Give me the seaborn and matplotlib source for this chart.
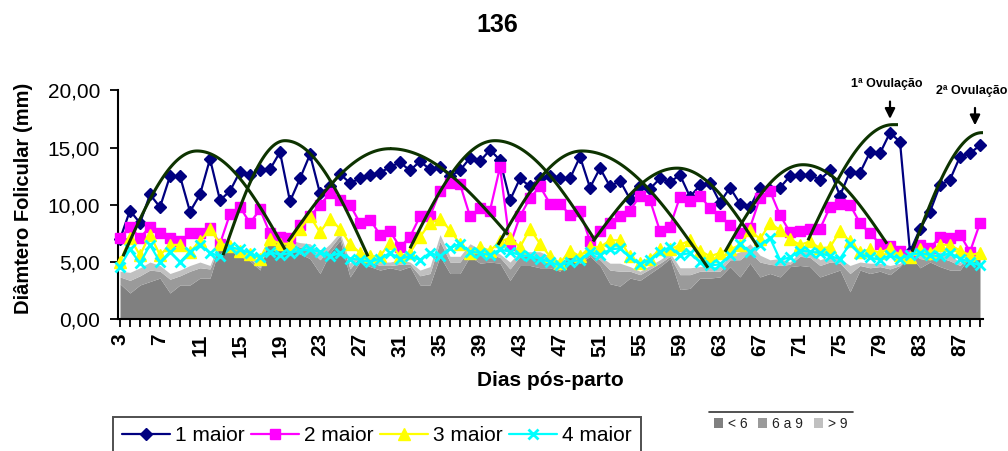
import numpy as np
import pandas as pd
import matplotlib
matplotlib.use("Agg")
import matplotlib.pyplot as plt
from matplotlib.lines import Line2D
from matplotlib.patches import Patch
import seaborn as sns

# ---- dados ----
dias = list(range(3, 90))

maior1 = [7.0, 9.5, 8.4, 10.9, 9.8, 12.5, 12.5, 9.4, 10.9, 14.0,
          10.4, 11.2, 12.9, 12.6, 13.0, 13.1, 14.6, 10.3, 12.3, 14.4,
          11.0, 11.6, 12.7, 11.9, 12.3, 12.6, 12.8, 13.3, 13.7, 13.0,
          13.8, 13.1, 13.3, 12.5, 13.0, 14.1, 13.8, 14.8, 13.9, 10.4,
          12.3, 11.6, 12.3, 12.5, 12.3, 12.3, 14.2, 11.5, 13.2, 11.6,
          12.1, 10.5, 11.6, 11.4, 12.3, 12.0, 12.6, 10.7, 11.7, 11.9,
          10.2, 11.5, 10.1, 9.8, 11.5, 11.3, 11.5, 12.5, 12.6, 12.6,
          12.2, 13.0, 10.8, 12.9, 12.8, 14.6, 14.5, 16.3, 15.5, 5.9,
          7.9, 9.4, 11.7, 12.2, 14.2, 14.5, 15.2]

maior2 = [7.1, 8.1, 7.1, 8.1, 7.5, 7.1, 6.8, 7.5, 7.5, 8.0,
          6.6, 9.2, 9.8, 8.4, 9.6, 7.5, 7.2, 7.1, 8.2, 9.0,
          10.0, 11.0, 10.4, 10.0, 8.4, 8.7, 7.4, 7.7, 6.3, 7.2,
          9.0, 9.0, 11.2, 11.9, 11.8, 9.0, 9.7, 9.5, 13.3, 6.5,
          9.0, 10.6, 11.6, 10.1, 10.1, 9.1, 9.5, 6.8, 7.7, 8.4,
          9.0, 9.5, 10.8, 10.4, 7.7, 8.1, 10.7, 10.3, 10.8, 9.7,
          9.0, 8.2, 7.5, 8.0, 10.6, 11.2, 9.1, 7.6, 7.7, 7.9,
          7.9, 9.8, 10.1, 10.0, 8.4, 7.5, 6.6, 6.4, 6.0, 5.6,
          6.5, 6.2, 7.2, 7.1, 7.4, 5.9, 8.4]

maior3 = [5.0, 7.1, 5.6, 7.4, 5.6, 6.5, 6.5, 5.9, 6.8, 7.9,
          6.6, 6.4, 6.0, 5.7, 5.3, 7.0, 6.6, 6.6, 7.9, 9.0,
          7.6, 8.8, 7.9, 6.6, 5.8, 5.5, 5.5, 6.7, 5.5, 5.8,
          7.2, 8.4, 8.8, 7.8, 6.6, 5.8, 6.3, 6.0, 6.8, 7.1,
          6.3, 7.9, 6.6, 5.5, 4.9, 6.0, 5.5, 6.3, 6.3, 6.9,
          6.9, 5.5, 4.9, 5.3, 6.1, 6.1, 6.5, 6.9, 6.0, 5.5,
          5.8, 6.1, 6.5, 7.8, 7.0, 8.4, 7.8, 7.0, 6.5, 6.8,
          6.2, 6.3, 7.7, 6.8, 5.9, 6.1, 5.8, 6.2, 5.6, 5.4,
          6.1, 5.8, 6.5, 6.5, 6.0, 5.6, 5.8]

maior4 = [4.6, 6.1, 4.9, 6.5, 5.0, 5.9, 5.0, 5.9, 6.5, 5.8,
          5.5, 6.3, 6.1, 5.8, 5.4, 5.9, 5.6, 5.8, 6.0, 6.1,
          5.9, 5.5, 5.8, 5.3, 5.2, 5.0, 5.3, 5.8, 5.3, 5.5,
          5.2, 5.8, 5.5, 6.2, 6.6, 5.9, 5.8, 5.6, 6.1, 5.9,
          5.6, 5.5, 5.3, 5.0, 4.7, 5.0, 5.2, 5.9, 5.6, 6.1,
          6.2, 5.4, 4.8, 5.2, 5.9, 6.3, 5.6, 5.8, 5.0, 4.7,
          4.8, 5.6, 6.6, 5.9, 6.5, 7.1, 5.2, 5.4, 6.0, 5.9,
          5.8, 5.5, 5.3, 6.6, 5.7, 5.4, 5.2, 5.6, 5.3, 5.6,
          5.8, 5.6, 5.5, 5.8, 5.3, 5.0, 4.7]

# classes de tamanho (áreas empilhadas)
menor6 = [3.1, 2.3, 3.0, 3.3, 3.6, 2.3, 3.0, 3.0, 3.6, 3.6,
          6.4, 6.0, 5.5, 5.1, 4.3, 7.3, 6.6, 6.2, 5.7, 5.3,
          4.0, 5.8, 6.9, 3.7, 5.0, 4.6, 4.3, 4.5, 4.3, 4.6,
          3.0, 3.0, 5.5, 4.0, 4.0, 5.5, 4.9, 5.0, 4.9, 3.4,
          4.7, 4.7, 4.5, 4.5, 4.2, 5.8, 4.9, 5.5, 4.7, 3.1,
          2.9, 3.6, 3.4, 4.0, 4.6, 5.3, 2.6, 2.7, 3.6, 3.6,
          3.7, 4.6, 3.7, 4.9, 3.7, 4.0, 3.7, 4.6, 4.7, 4.6,
          3.7, 4.0, 4.3, 2.4, 4.3, 4.0, 4.2, 3.9, 4.6, 5.6,
          4.5, 5.0, 4.6, 4.3, 4.3, 5.5, 5.5]

de6a9 = [0.6, 1.1, 0.8, 1.0, 0.6, 1.2, 0.8, 1.2, 0.9, 0.8,
         0.2, 0.2, 0.2, 0.2, 0.2, 0.2, 0.3, 0.4, 0.6, 0.8,
         1.2, 0.4, 0.4, 0.7, 0.5, 0.4, 0.4, 0.2, 0.5, 0.2,
         0.8, 1.0, 1.3, 1.0, 1.0, 0.7, 0.8, 0.7, 0.5, 1.0,
         0.8, 0.8, 0.9, 0.6, 0.2, 0.2, 0.2, 0.2, 0.5, 1.2,
         1.3, 0.6, 0.5, 0.4, 0.3, 0.2, 1.3, 1.2, 0.6, 0.6,
         0.5, 0.6, 1.5, 1.0, 1.3, 0.8, 1.0, 0.2, 0.8, 0.8,
         1.0, 1.0, 0.6, 1.6, 0.4, 0.5, 0.4, 0.5, 0.1, 0.3,
         0.8, 0.2, 0.8, 0.8, 0.4, 0.1, 0.2]

maior9 = [0.5, 0.7, 0.7, 0.7, 0.5, 0.5, 0.5, 0.5, 0.5, 0.3,
          0.3, 0.3, 0.3, 0.3, 0.3, 0.3, 0.3, 0.3, 0.4, 0.5,
          0.6, 0.4, 0.3, 0.5, 0.4, 0.3, 0.3, 0.3, 0.4, 0.2,
          0.5, 0.6, 0.6, 0.5, 0.5, 0.4, 0.4, 0.4, 0.3, 0.6,
          0.4, 0.4, 0.5, 0.4, 0.2, 0.1, 0.2, 0.1, 0.3, 0.6,
          0.7, 0.4, 0.3, 0.3, 0.3, 0.3, 0.6, 0.6, 0.4, 0.4,
          0.4, 0.4, 0.7, 0.7, 0.6, 0.4, 0.6, 0.2, 0.4, 0.5,
          0.5, 0.5, 0.4, 0.7, 0.3, 0.4, 0.3, 0.3, 0.2, 0.3,
          0.5, 0.3, 0.5, 0.5, 0.3, 0.2, 0.2]

# ondas foliculares: início, pico e fim (dia, diâmetro)
onda_ini_dia = [3.3, 13.3, 19.8, 32.0, 40.8, 50.3, 63.5, 71.8, 82.2]
onda_ini_val = [5.5, 5.6, 6.8, 6.2, 6.5, 6.8, 5.9, 6.9, 5.9]
onda_pico_dia = [10.7, 19.5, 30.0, 40.5, 49.2, 58.7, 71.3, 80.3, 89.2]
onda_pico_val = [14.7, 15.6, 14.9, 15.6, 14.7, 13.2, 13.5, 17.0, 16.3]
onda_fim_dia = [19.5, 27.8, 41.8, 50.5, 61.8, 66.8, 79.7, 80.8, 89.7]
onda_fim_val = [6.1, 5.5, 7.4, 6.9, 4.5, 6.3, 6.6, 17.0, 16.3]

ovulacoes = ["1ª Ovulação", "2ª Ovulação"]
ovul_dia = [80.0, 88.5]
ovul_val = [17.26, 16.7]

series = ["1 maior", "2 maior", "3 maior", "4 maior"]
classes = ["< 6", "6 a 9", "> 9"]
y_ticks = [0, 5, 10, 15, 20]
x_ticks = list(range(3, 88, 4))

# ---- estilo ----
sns.set_style("ticks")
plt.rcParams["font.family"] = ["Liberation Sans", "DejaVu Sans"]
plt.rcParams.update({"text.color": "black", "axes.labelcolor": "black",
                     "xtick.color": "black", "ytick.color": "black"})

fig = plt.figure(figsize=(10.08, 4.51), dpi=100)
W, H = 1008, 451
ax = fig.add_axes([118 / W, 1 - 319.3 / H, (983 - 118) / W, 229 / H])

# áreas empilhadas por classe de tamanho
area_cores = ["#808080", "#9a9a9a", "#c0c0c0"]
ax.stackplot(dias, menor6, de6a9, maior9, colors=area_cores,
             linewidth=0, zorder=1)

# séries dos quatro maiores folículos
estilos = [
    dict(color="#000080", marker="D", markersize=6.4, markeredgewidth=1),
    dict(color="#ff00ff", marker="s", markersize=7.4, markeredgewidth=1),
    dict(color="#ffff00", marker="^", markersize=8.6, markeredgewidth=1),
    dict(color="#00ffff", marker="x", markersize=7.5, markeredgewidth=2),
]
valores = [maior1, maior2, maior3, maior4]
for i, (nome, vals, st) in enumerate(zip(series, valores, estilos)):
    df = pd.DataFrame({"dia": dias, "diametro": vals})
    sns.lineplot(data=df, x="dia", y="diametro", ax=ax, color=st["color"],
                 marker=st["marker"], markersize=st["markersize"],
                 markeredgecolor=st["color"],
                 markeredgewidth=st["markeredgewidth"],
                 linewidth=1.6, errorbar=None, legend=False,
                 zorder=3 + i, clip_on=False)

# curvas das ondas foliculares
for ds, vs, dp, vp, de, ve in zip(onda_ini_dia, onda_ini_val, onda_pico_dia,
                                  onda_pico_val, onda_fim_dia, onda_fim_val):
    xl = np.linspace(ds, dp, 60)
    yl = vs + (vp - vs) * np.sin(np.pi / 2 * (xl - ds) / (dp - ds))
    xr = np.linspace(dp, de, 60)
    yr = ve + (vp - ve) * np.cos(np.pi / 2 * (xr - dp) / (de - dp))
    ax.plot(np.r_[xl, xr], np.r_[yl, yr], color="#0d3300", lw=2.2,
            zorder=8, solid_capstyle="butt")

# setas de ovulação
for txt, d, v in zip(ovulacoes, ovul_dia, ovul_val):
    ax.annotate("", xy=(d, v), xytext=(d, v + 2.0),
                arrowprops=dict(arrowstyle="-|>,head_width=0.3,head_length=0.6",
                                color="black", lw=1.6),
                annotation_clip=False, zorder=9)
    ax.text(d - 0.3, v + 3.25, txt, ha="center", va="center", fontsize=9,
            fontweight="bold", color="black", clip_on=False)

# eixos
ax.set_xlim(2.8, 89.3)
ax.set_ylim(0, 20)
ax.set_yticks(y_ticks)
ax.set_yticklabels([f"{t:.2f}".replace(".", ",") for t in y_ticks],
                   fontsize=15)
ax.set_xticks(x_ticks)
ax.set_xticklabels([str(t) for t in x_ticks], rotation=90, fontsize=15,
                   fontweight="bold")
ax.set_xticks(dias, minor=True)
ax.tick_params(axis="both", which="both", direction="out", length=6,
               width=1.3, color="black")
ax.tick_params(axis="y", pad=7)
ax.tick_params(axis="x", which="major", pad=4)
for s in ["top", "right"]:
    ax.spines[s].set_visible(False)
for s in ["left", "bottom"]:
    ax.spines[s].set_linewidth(1.5)
    ax.spines[s].set_color("black")
ax.grid(False)

ax.set_ylabel("Diâmtero Folicular (mm)", fontsize=14.5, fontweight="bold")
ax.yaxis.set_label_coords((24 - 118) / 865, (319.3 - 198) / 229)
ax.yaxis.label.set_va("center")
ax.set_xlabel("Dias pós-parto", fontsize=15, fontweight="bold")
ax.xaxis.set_label_coords(0.5, -(381 - 319.3) / 229)
ax.xaxis.label.set_va("center")

fig.text(497 / W, 1 - 25 / H, "136", ha="center", va="center", fontsize=18,
         fontweight="bold", family=["Liberation Sans Narrow", "Liberation Sans"])

# legenda das séries
handles = [Line2D([0], [0], color=st["color"], marker=st["marker"],
                  markersize=st["markersize"], markeredgecolor=st["color"],
                  markeredgewidth=st["markeredgewidth"], linewidth=1.6)
           for st in estilos]
leg = fig.legend(handles, series, loc="upper left",
                 bbox_to_anchor=(112.5 / W, 1 - 416.5 / H), ncol=4,
                 fontsize=15, frameon=True, fancybox=False,
                 edgecolor="#222222", handlelength=2.3, handletextpad=0.25,
                 columnspacing=0.3, borderpad=0.45, borderaxespad=0)
leg.get_frame().set_linewidth(1.4)

# legenda das classes de tamanho
patches = [Patch(facecolor=c, edgecolor="none") for c in area_cores]
fig.legend(patches, classes, loc="upper left",
           bbox_to_anchor=(711 / W, 1 - 414 / H), ncol=3, fontsize=10,
           frameon=False, handlelength=0.65, handleheight=0.65,
           handletextpad=0.35, columnspacing=0.8, labelcolor="#222222",
           borderaxespad=0, borderpad=0.2)
fig.add_artist(Line2D([709 / W, 853 / W], [1 - 412 / H] * 2,
                      color="#333333", lw=1.2))

fig.savefig("out.png", dpi=100)
